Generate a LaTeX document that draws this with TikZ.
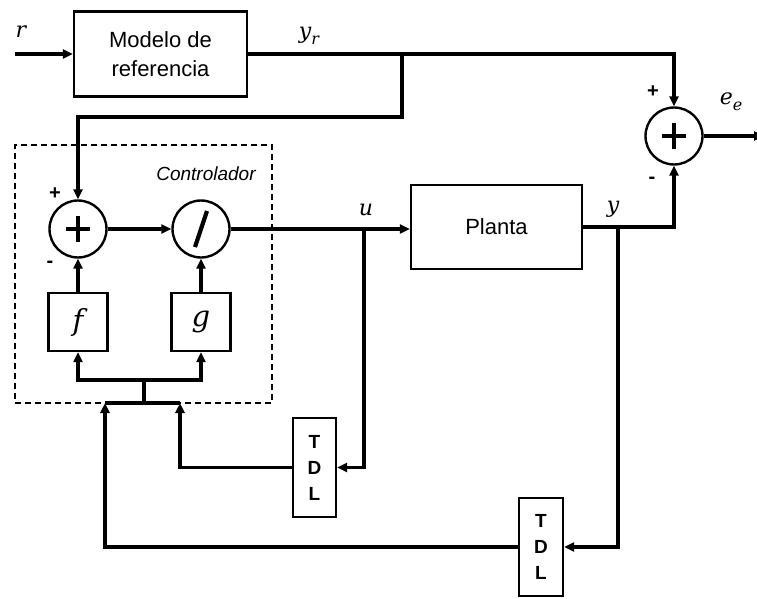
\documentclass[tikz,border=0pt]{standalone}
\usepackage{fontspec}
\setmainfont{Liberation Sans}
\newfontfamily\mlfont{DejaVu Serif}
\usetikzlibrary{arrows.meta}
\newcommand{\mlsub}[2]{{\mlfont\itshape #1}\raisebox{-6pt}{\fontsize{16}{18}\selectfont\mlfont\itshape #2}}
\begin{document}
\begin{tikzpicture}[x=1pt,y=-1pt,
  line/.style={line width=3.2pt},
  wire/.style={line width=3.2pt,-{Triangle[length=10pt,width=9pt]}},
  blk/.style={draw,line width=2.4pt,inner sep=0pt,align=center},
  sumc/.style={circle,draw,line width=2.4pt,minimum size=57pt,inner sep=0pt},
  bigtxt/.style={font=\fontsize{22}{29}\selectfont},
  tdltxt/.style={font=\fontsize{19}{26}\selectfont\bfseries},
  mathlbl/.style={font=\fontsize{22}{26}\selectfont\mlfont\itshape},
  fglbl/.style={font=\fontsize{29}{32}\selectfont\mlfont\itshape},
  sgn/.style={font=\fontsize{20}{22}\selectfont\bfseries},
  bar/.style={line width=4.2pt}]
\useasboundingbox (0,0) rectangle (757,599);
% dashed controller frame
\node[draw,dashed,line width=1.6pt,dash pattern=on 6pt off 4pt,minimum width=257pt,minimum height=258pt,inner sep=0pt] (ctrl) at (143.5,274) {};
\node[font=\fontsize{19}{21}\selectfont\itshape] (ctrllbl) at (206,174) {Controlador};
% blocks
\node[blk,bigtxt,minimum width=173pt,minimum height=85pt] (model) at (160.5,54) {Modelo de\\referencia};
\node[blk,bigtxt,minimum width=171pt,minimum height=84pt] (planta) at (496.5,227) {Planta};
\node[blk,tdltxt,minimum width=43pt,minimum height=99pt] (tdl1) at (314.5,467.5) {T\\D\\L};
\node[blk,tdltxt,minimum width=44pt,minimum height=98pt] (tdl2) at (541,547) {T\\D\\L};
\node[blk,fglbl,minimum width=59pt,minimum height=58pt] (f) at (78,322) {f};
\node[blk,fglbl,minimum width=59pt,minimum height=58pt] (g) at (201,322) {g};
% summing / dividing junctions
\node[sumc] (s1) at (78,229) {};
\node[sumc] (dv) at (201,229) {};
\node[sumc] (s2) at (674,136) {};
\draw[bar] ([xshift=-12pt]s1.center) -- ([xshift=12pt]s1.center);
\draw[bar] ([yshift=-13pt]s1.center) -- ([yshift=13pt]s1.center);
\draw[bar] ([xshift=-12pt]s2.center) -- ([xshift=12pt]s2.center);
\draw[bar] ([yshift=-13pt]s2.center) -- ([yshift=13pt]s2.center);
\draw[bar] ([xshift=-6pt,yshift=-18pt]dv.center) -- ([xshift=6pt,yshift=18pt]dv.center);
% coordinates
\coordinate (rin) at (15,54);
\coordinate (b1) at (402,54);
\coordinate (b1d) at (402,117);
\coordinate (ub) at (364,229);
\coordinate (yb) at (618,227);
\coordinate (c105) at (105,403);
\coordinate (c180) at (180,403);
\coordinate (bs) at (144,403);
\coordinate (bm) at (144,380);
\coordinate (eeout) at (764,136);
% connectors
\draw[wire] (rin) -- (model.west);
\draw[wire] (model.east) -| (s2.north);
\draw[wire] (b1) -- (b1d) -| (s1.north);
\draw[wire] (s1.east) -- (dv.west);
\draw[wire] (dv.east) -- (dv.east -| planta.west);
\draw[wire] (ub) |- (tdl1.east);
\draw[wire] (tdl1.west) -| (c180);
\draw[wire] (planta.east) -| (s2.south);
\draw[wire] (yb) |- (tdl2.east);
\draw[wire] (tdl2.west) -| (c105);
\draw[line] (c105) -- (c180);
\draw[line] (bs) -- (bm);
\draw[wire] (bm) -| (f.south);
\draw[wire] (bm) -| (g.south);
\draw[wire] (f.north) -- (s1.south);
\draw[wire] (g.north) -- (dv.south);
\draw[wire] (s2.east) -- (eeout);
% labels
\node[mathlbl] (lr) at (21,32) {r};
\node[mathlbl] (lyr) at (309,36) {\mlsub{y}{r}};
\node[mathlbl] (lu) at (366,210) {u};
\node[mathlbl] (ly) at (613,209) {y};
\node[mathlbl] (lee) at (731,102) {\mlsub{e}{e}};
\node[sgn] (p1) at (55,194) {+};
\node[sgn] (m1) at (50,264) {-};
\node[sgn] (p2) at (653,92) {+};
\node[sgn] (m2) at (652,180) {-};
\end{tikzpicture}
\end{document}
